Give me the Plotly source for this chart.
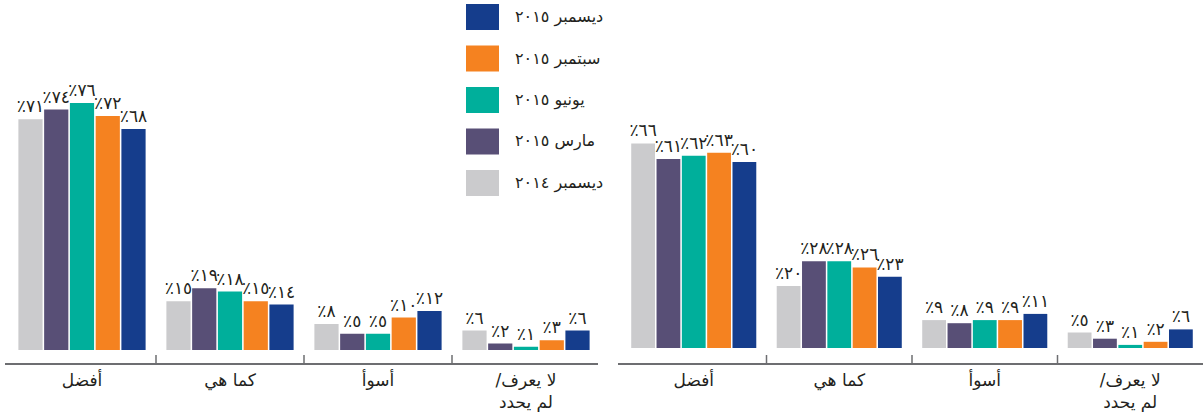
import plotly.graph_objects as go

# Category labels along the x axis (shared by both panels).
# The slash is written first so that it sits on the right of the first line.
categories = ["أفضل", "كما هي", "أسوأ", "/لا يعرف<br>لم يحدد"]

# Survey rounds, oldest first, with their colours
series_names = ["ديسمبر ٢٠١٤", "مارس ٢٠١٥", "يونيو ٢٠١٥", "سبتمبر ٢٠١٥", "ديسمبر ٢٠١٥"]
series_colors = ["#CBCBCD", "#584F76", "#00AF9B", "#F58220", "#153D8C"]

# Left panel (percent)
left_dec14 = [71, 15, 8, 6]
left_mar15 = [74, 19, 5, 2]
left_jun15 = [76, 18, 5, 1]
left_sep15 = [72, 15, 10, 3]
left_dec15 = [68, 14, 12, 6]

# Right panel (percent)
right_dec14 = [66, 20, 9, 5]
right_mar15 = [61, 28, 8, 3]
right_jun15 = [62, 28, 9, 1]
right_sep15 = [63, 26, 9, 2]
right_dec15 = [60, 23, 11, 6]

left_series = [left_dec14, left_mar15, left_jun15, left_sep15, left_dec15]
right_series = [right_dec14, right_mar15, right_jun15, right_sep15, right_dec15]

W, H = 1203, 416
FONT = "DejaVu Sans"
TEXT_COLOR = "#231F20"
AXIS_COLOR = "#6D6E71"

ARABIC_DIGITS = str.maketrans("0123456789", "٠١٢٣٤٥٦٧٨٩")


def pct_label(v):
    return "٪" + str(v).translate(ARABIC_DIGITS)


def px_x(p):
    return p / W


def px_y(p):
    return (H - p) / H


fig = go.Figure()

for xa, ya, panel in (("x", "y", left_series), ("x2", "y2", right_series)):
    for name, color, vals in zip(series_names, series_colors, panel):
        fig.add_trace(go.Bar(
            x=categories, y=vals, name=name,
            marker=dict(color=color, line=dict(width=0)),
            text=[pct_label(v) for v in vals],
            textposition="outside", constraintext="none", cliponaxis=False,
            textfont=dict(family=FONT, size=17, color=TEXT_COLOR),
            xaxis=xa, yaxis=ya, showlegend=False,
        ))

# vertical geometry: axis line at 364 px, bar baseline a little above it
axis_px = 364
domain_bottom = px_y(axis_px)

left_scale = 3.25   # px per percent
right_scale = 3.1
left_base = 350
right_base = 348

xaxis_common = dict(type="category", showgrid=False, zeroline=False, showline=False,
                    ticks="", ticklabelstandoff=4,
                    tickfont=dict(family=FONT, size=17, color=TEXT_COLOR),
                    fixedrange=True)
yaxis_common = dict(visible=False, showgrid=False, zeroline=False, fixedrange=True)

fig.update_layout(
    width=W, height=H,
    margin=dict(l=0, r=0, t=0, b=0),
    paper_bgcolor="white", plot_bgcolor="white",
    barmode="group", bargap=0.13, bargroupgap=0.06,
    xaxis=dict(domain=[px_x(8), px_x(600)], anchor="y", **xaxis_common),
    xaxis2=dict(domain=[px_x(621), px_x(1203)], anchor="y2", **xaxis_common),
    yaxis=dict(domain=[domain_bottom, 1], anchor="x",
               range=[-(axis_px - left_base) / left_scale, left_base / left_scale],
               **yaxis_common),
    yaxis2=dict(domain=[domain_bottom, 1], anchor="x2",
                range=[-(axis_px - right_base) / right_scale, right_base / right_scale],
                **yaxis_common),
)

shapes = []
# baseline of each panel
for x0, x1 in ((5, 598), (618, 1203)):
    shapes.append(dict(type="line", xref="paper", yref="paper",
                       x0=px_x(x0), x1=px_x(x1), y0=domain_bottom, y1=domain_bottom,
                       line=dict(color=AXIS_COLOR, width=2)))
# separators between categories
for xr in ("x", "x2"):
    for b in range(len(categories) - 1):
        shapes.append(dict(type="line", xref=xr, yref="paper",
                           x0=b + 0.5, x1=b + 0.5, y0=domain_bottom, y1=px_y(355),
                           line=dict(color=AXIS_COLOR, width=1.5)))

# legend: newest round on top
annotations = []
leg_top = 17
leg_step = 41.5
for i, (name, color) in enumerate(zip(reversed(series_names), reversed(series_colors))):
    cy = leg_top + i * leg_step
    shapes.append(dict(type="rect", xref="paper", yref="paper",
                       x0=px_x(466), x1=px_x(499), y0=px_y(cy + 13), y1=px_y(cy - 13),
                       fillcolor=color, line=dict(width=0)))
    annotations.append(dict(xref="paper", yref="paper", x=px_x(513), y=px_y(cy),
                            xanchor="left", yanchor="middle", showarrow=False,
                            text=name, font=dict(family=FONT, size=16, color=TEXT_COLOR)))

fig.update_layout(shapes=shapes, annotations=annotations)

fig.write_html("out.html")
